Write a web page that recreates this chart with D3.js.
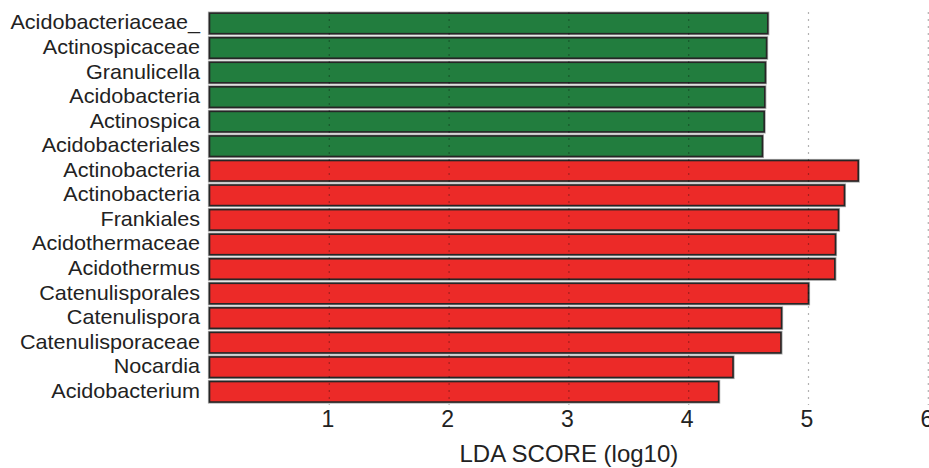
<!DOCTYPE html>
<html>
<head>
<meta charset="utf-8">
<script src="https://cdn.jsdelivr.net/npm/d3@7"></script>
<style>
  html, body { margin: 0; padding: 0; background: #fff; }
  svg { display: block; font-family: "Liberation Sans", Arial, Helvetica, sans-serif; }
</style>
</head>
<body>
<svg id="chart" width="929" height="468"></svg>
<script>
// LEfSe-style LDA score bars, top to bottom
const taxa = [
  "Acidobacteriaceae_", "Actinospicaceae", "Granulicella", "Acidobacteria",
  "Actinospica", "Acidobacteriales", "Actinobacteria", "Actinobacteria",
  "Frankiales", "Acidothermaceae", "Acidothermus", "Catenulisporales",
  "Catenulispora", "Catenulisporaceae", "Nocardia", "Acidobacterium"
];
const ldaScores = [
  4.66, 4.65, 4.64, 4.635, 4.63, 4.615, 5.415, 5.30,
  5.25, 5.225, 5.22, 5.00, 4.775, 4.77, 4.37, 4.25
];
const groups = [
  "g", "g", "g", "g", "g", "g", "r", "r",
  "r", "r", "r", "r", "r", "r", "r", "r"
];
const groupColors = { g: "#227d3e", r: "#ec2a28" };
const tickValues = [1, 2, 3, 4, 5, 6];
const axisTitle = "LDA SCORE (log10)";

const svg = d3.select("#chart");

const x = d3.scaleLinear().domain([0, 6]).range([209.5, 928.3]);
const y = d3.scaleBand()
  .domain(d3.range(taxa.length))
  .range([11.2, 404])
  .paddingInner(0.165)
  .paddingOuter(0.08);

// bars: soft grey halo under a dark outline
const bars = svg.append("g");
bars.selectAll("rect.halo")
  .data(ldaScores)
  .join("rect")
  .attr("class", "halo")
  .attr("x", x(0))
  .attr("y", (d, i) => y(i))
  .attr("width", d => x(d) - x(0))
  .attr("height", y.bandwidth())
  .attr("fill", "none")
  .attr("stroke", "#aaa")
  .attr("stroke-width", 3.2);
bars.selectAll("rect.bar")
  .data(ldaScores)
  .join("rect")
  .attr("class", "bar")
  .attr("x", x(0))
  .attr("y", (d, i) => y(i))
  .attr("width", d => x(d) - x(0))
  .attr("height", y.bandwidth())
  .attr("fill", (d, i) => groupColors[groups[i]])
  .attr("stroke", "#262626")
  .attr("stroke-width", 1.6);

// dotted vertical grid drawn over the bars
svg.append("g")
  .selectAll("line")
  .data(tickValues)
  .join("line")
  .attr("x1", d => x(d))
  .attr("x2", d => x(d))
  .attr("y1", 12)
  .attr("y2", 405)
  .attr("stroke", "#000")
  .attr("stroke-opacity", 0.3)
  .attr("stroke-width", 1.2)
  .attr("stroke-dasharray", "2,5");

// taxon labels
svg.append("g")
  .selectAll("text")
  .data(taxa)
  .join("text")
  .attr("transform", (d, i) => `translate(200,${y(i) + y.bandwidth() / 2 + 6}) scale(1.08,1)`)
  .attr("text-anchor", "end")
  .attr("font-size", 20)
  .attr("fill", "#222")
  .text(d => d);

// x axis: tick labels only
const axis = svg.append("g")
  .attr("transform", "translate(0,405)")
  .call(d3.axisBottom(x).tickValues(tickValues).tickSize(0).tickPadding(6).tickFormat(d3.format("d")));
axis.select(".domain").remove();
axis.selectAll("text")
  .attr("font-size", 23)
  .attr("font-family", "Liberation Sans, Arial, sans-serif")
  .attr("fill", "#222")
  .attr("dx", -2);

svg.append("text")
  .attr("x", x(3))
  .attr("y", 462)
  .attr("text-anchor", "middle")
  .attr("font-size", 24)
  .attr("fill", "#222")
  .text(axisTitle);
</script>
</body>
</html>
